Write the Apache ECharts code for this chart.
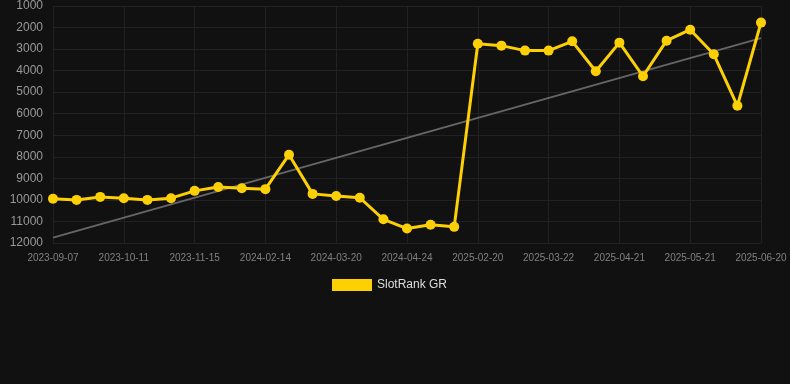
<!DOCTYPE html>
<html>
<head>
<meta charset="utf-8">
<script src="https://cdn.jsdelivr.net/npm/echarts@6/dist/echarts.min.js"></script>
<style>
html,body{margin:0;padding:0;background:#111111;}
#chart{width:790px;height:384px;}
</style>
</head>
<body>
<div id="chart"></div>
<script>
var categories = [
  "2023-09-07","2023-09-18","2023-09-29","2023-10-11","2023-10-22","2023-11-03",
  "2023-11-15","2023-12-15","2024-01-15","2024-02-14","2024-02-26","2024-03-08",
  "2024-03-20","2024-04-01","2024-04-12","2024-04-24","2024-08-01","2024-11-10",
  "2025-02-20","2025-03-02","2025-03-12","2025-03-22","2025-04-01","2025-04-11",
  "2025-04-21","2025-05-01","2025-05-11","2025-05-21","2025-05-31","2025-06-10",
  "2025-06-20"
];
var rankValues = [
  9950, 10000, 9860, 9920, 10000, 9920,
  9580, 9400, 9460, 9500, 7900, 9720,
  9820, 9900, 10900, 11330, 11150, 11250,
  2750, 2840, 3070, 3070, 2640, 4030,
  2700, 4260, 2610, 2100, 3240, 5630,
  1770
];
var trendValues = [11750, 2490];
var yTicks = [1000, 12000, 1000]; // min, max, interval

var chart = echarts.init(document.getElementById('chart'));
chart.setOption({
  backgroundColor: '#111111',
  animation: false,
  grid: { left: 53, right: 29, top: 6, bottom: 141 },
  legend: {
    bottom: 88,
    left: 327,
    itemWidth: 40,
    itemHeight: 12,
    itemGap: 10,
    icon: 'rect',
    textStyle: { color: '#dddddd', fontSize: 12, fontFamily: 'Liberation Sans, Arial, sans-serif' },
    data: [{ name: 'SlotRank GR', itemStyle: { color: '#ffd000' } }]
  },
  xAxis: {
    type: 'category',
    data: categories,
    boundaryGap: false,
    axisLine: { show: false },
    axisTick: { show: false },
    axisLabel: {
      interval: 2,
      color: '#808080',
      fontSize: 10,
      margin: 10,
      fontFamily: 'Liberation Sans, Arial, sans-serif'
    },
    splitLine: { show: true, interval: 2, lineStyle: { color: '#222222', width: 1 } }
  },
  yAxis: {
    type: 'value',
    inverse: true,
    min: yTicks[0],
    max: yTicks[1],
    interval: yTicks[2],
    axisLine: { show: false },
    axisTick: { show: false },
    axisLabel: {
      color: '#999999',
      fontSize: 12,
      margin: 10,
      fontFamily: 'Liberation Sans, Arial, sans-serif',
      formatter: function (v) { return String(v); }
    },
    splitLine: { show: true, lineStyle: { color: '#222222', width: 1 } }
  },
  series: [
    {
      name: 'SlotRank GR',
      type: 'line',
      data: rankValues,
      symbol: 'circle',
      symbolSize: 10,
      lineStyle: { color: '#ffd000', width: 3 },
      itemStyle: { color: '#ffd000' },
      z: 3,
      markLine: {
        silent: true,
        symbol: ['none', 'none'],
        label: { show: false },
        lineStyle: { color: '#666666', width: 2, type: 'solid' },
        data: [[
          { coord: [categories[0], trendValues[0]] },
          { coord: [categories[categories.length - 1], trendValues[1]] }
        ]],
        z: 2
      }
    }
  ]
});
</script>
</body>
</html>
